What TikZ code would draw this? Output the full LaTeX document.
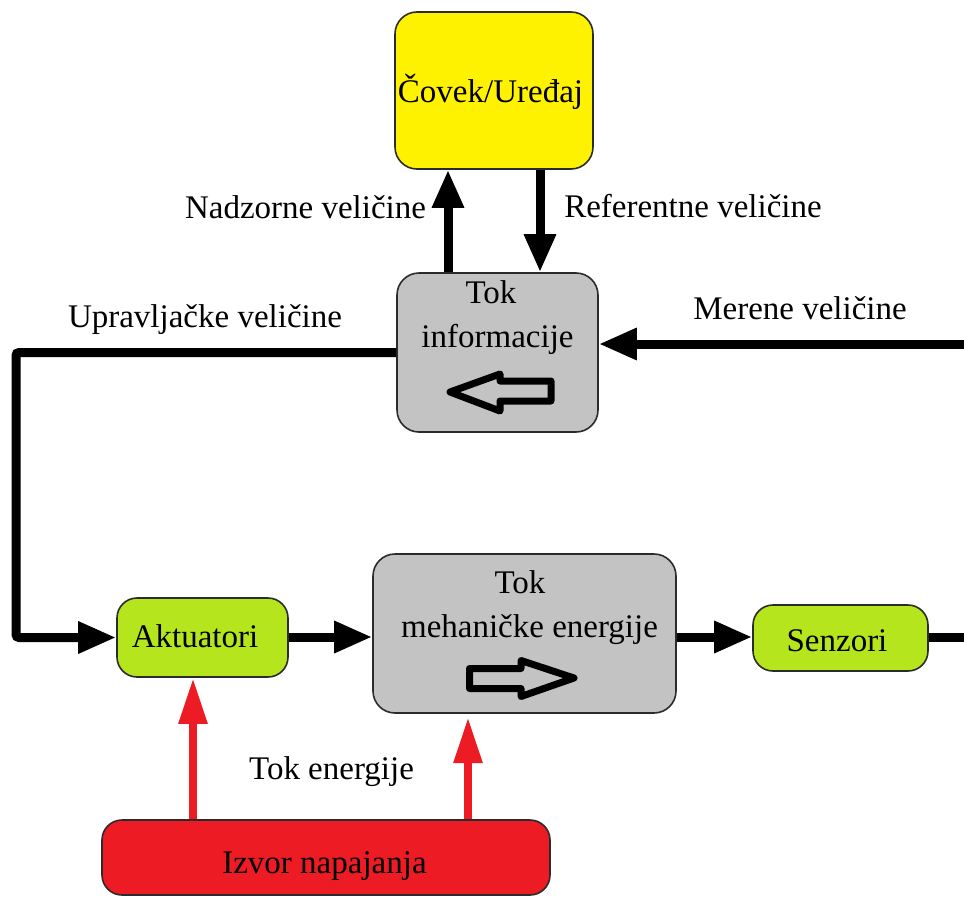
\documentclass[tikz,border=0pt]{standalone}
\usepackage{fontspec}
\setmainfont{Liberation Serif}
\usetikzlibrary{arrows.meta}

\definecolor{boxyellow}{HTML}{FFF200}
\definecolor{boxgray}{HTML}{C3C3C3}
\definecolor{boxgreen}{HTML}{B5E61D}
\definecolor{boxred}{HTML}{ED1C24}
\definecolor{edge}{HTML}{2B2B2B}

\begin{document}
\begin{tikzpicture}[x=1pt,y=-1pt,
  font=\fontsize{33}{46}\selectfont,
  block/.style={draw=edge, line width=1.6pt, rounded corners=22pt,
    inner sep=0pt, minimum width=#1},
  lbl/.style={anchor=base, inner sep=0pt, text=black},
  blk/.style={line width=9pt, draw=black},
  blkarrow/.style={blk, -{Triangle[length=38pt,width=30pt]}},
  redarrow/.style={line width=8.5pt, draw=boxred,
    -{Triangle[length=46pt,width=27pt]}},
  hollow/.style={draw=black, line width=7pt, line join=round},
]
\useasboundingbox (0,0) rectangle (964,897);

% blocks
\node[block=198pt, minimum height=157pt, fill=boxyellow] (human) at (494,90.5) {};
\node[block=201pt, minimum height=159pt, fill=boxgray] (info) at (497.5,352.5) {};
\node[block=303pt, minimum height=159pt, fill=boxgray] (mech) at (524.5,633.5) {};
\node[block=171pt, minimum height=79pt, fill=boxgreen, rounded corners=20pt] (act) at (202.5,637.5) {};
\node[block=175pt, minimum height=66pt, fill=boxgreen, rounded corners=20pt] (sen) at (840.5,638) {};
\node[block=448pt, minimum height=75pt, fill=boxred, rounded corners=20pt] (power) at (326,857.5) {};

% block texts
\node[lbl] (humanT) at (490.5,102) {Čovek/Uređaj};
\node[lbl] (infoT1) at (491,303) {Tok};
\node[lbl] (infoT2) at (497.5,347) {informacije};
\node[lbl] (mechT1) at (520,593) {Tok};
\node[lbl] (mechT2) at (529.5,637) {mehaničke energije};
\node[lbl] (actT) at (195,647) {Aktuatori};
\node[lbl] (senT) at (837,651) {Senzori};
\node[lbl] (powerT) at (324.5,873) {Izvor napajanja};

% flow direction marks inside the gray blocks
\draw[hollow] (450,392) -- (500,374) -- (500,381) -- (551,381) -- (551,401)
  -- (500,401) -- (500,411) -- cycle;
\draw[hollow] (574,678) -- (521,660.5) -- (521,668.5) -- (469.5,668.5)
  -- (469.5,688.5) -- (521,688.5) -- (521,696.5) -- cycle;

% connector labels
\node[lbl] (nadzT) at (305.5,218) {Nadzorne veličine};
\node[lbl] (refT) at (693,217) {Referentne veličine};
\node[lbl] (uprT) at (205,327) {Upravljačke veličine};
\node[lbl] (merT) at (800,319) {Merene veličine};
\node[lbl] (energT) at (331.5,779) {Tok energije};

% helper coordinates
\coordinate (upx) at (448,0);
\coordinate (dnx) at (540,0);
\coordinate (lc) at (16,0);
\coordinate (mr) at (964,344);
\coordinate (sr) at (964,637);
\coordinate (rl) at (193,0);
\coordinate (rr) at (468,0);
\coordinate (mechIn) at (468,717);

% information connectors
\draw[blkarrow] (info.north -| upx) -- (human.south -| upx);
\draw[blkarrow] (human.south -| dnx) -- (info.north -| dnx);
\draw[blkarrow, rounded corners=3pt] (info.west) -- (info.west -| lc)
  -- (act.west -| lc) -- (act.west);
\draw[blkarrow] (mr) -- (mr -| info.east);

% mechanical connectors
\draw[blkarrow] (act.east |- 0,637) -- (mech.west |- 0,637);
\draw[blkarrow] (mech.east |- 0,637) -- (sen.west |- 0,637);
\draw[blk] (sen.east |- sr) -- (sr);

% energy supply
\draw[redarrow] (power.north -| rl) -- (act.south -| rl);
\draw[redarrow] (power.north -| rr) -- (mechIn);
\end{tikzpicture}
\end{document}
